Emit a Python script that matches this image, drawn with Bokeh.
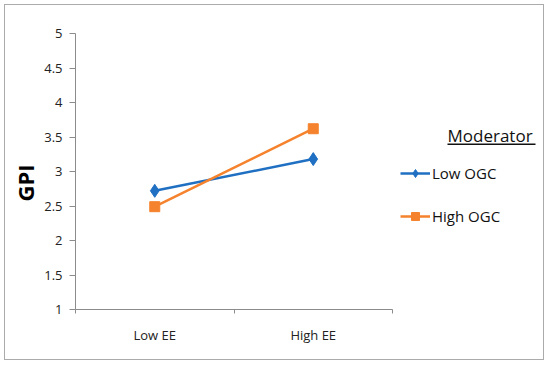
from bokeh.plotting import figure
from bokeh.models import (Range1d, FixedTicker, NumeralTickFormatter, Legend, LegendItem,
                          Label, BoxAnnotation, Title)
from bokeh.embed import file_html
from bokeh.resources import INLINE

categories = ["Low EE", "High EE"]
low_ogc = [2.72, 3.18]
high_ogc = [2.49, 3.62]
y_ticks = [1, 1.5, 2, 2.5, 3, 3.5, 4, 4.5, 5]
series_names = ["Low OGC", "High OGC"]

BLUE = "#1f6fc2"
ORANGE = "#f5822c"
FONT = "Open Sans"

xs = [i + 0.5 for i in range(len(categories))]

W, H = 540, 356
LEFT, TOP, RIGHT, BOTTOM = 70, 28, 2, 52
frame_w = W - LEFT - RIGHT
px_per_cat = 317 / len(categories)          # width of one category slot in pixels
x_end = frame_w / px_per_cat                # frame extends right to host the legend

p = figure(width=W, height=H, output_backend="svg", toolbar_location=None,
           x_range=Range1d(0, x_end), y_range=Range1d(1, 5),
           min_border_left=LEFT, min_border_top=TOP, min_border_right=RIGHT,
           min_border_bottom=BOTTOM)
p.styles = {"margin": "4px", "border": "1px solid #ababab"}
p.outline_line_color = None
p.xgrid.visible = False
p.ygrid.visible = False
p.background_fill_color = "white"
p.border_fill_color = "white"

# y axis
p.yaxis.ticker = FixedTicker(ticks=y_ticks)
p.yaxis.formatter = NumeralTickFormatter(format="0.[0]")
p.yaxis.axis_line_color = "#8c8c8c"
p.yaxis.major_tick_line_color = "#8c8c8c"
p.yaxis.major_tick_out = 6
p.yaxis.major_tick_in = 0
p.yaxis.minor_tick_line_color = None
p.yaxis.major_label_standoff = 7
p.yaxis.major_label_text_font = FONT
p.yaxis.major_label_text_font_size = "13px"
p.yaxis.major_label_text_color = "#222222"

# y-axis title, sitting a little below the frame's middle as in the original
p.add_layout(Title(text="GPI", align="left", offset=108, standoff=4,
                   text_font=FONT, text_font_size="22px", text_font_style="bold",
                   text_color="black"), "left")

# x axis (line limited to the category slots)
p.xaxis.bounds = (0, len(categories))
p.xaxis.ticker = FixedTicker(ticks=xs, minor_ticks=list(range(len(categories) + 1)))
p.xaxis.major_label_overrides = {x: c for x, c in zip(xs, categories)}
p.xaxis.axis_line_color = "#8c8c8c"
p.xaxis.major_tick_line_color = None
p.xaxis.minor_tick_line_color = "#8c8c8c"
p.xaxis.minor_tick_out = 4
p.xaxis.minor_tick_in = 0
p.xaxis.major_label_standoff = 10
p.xaxis.major_label_text_font = FONT
p.xaxis.major_label_text_font_size = "13px"
p.xaxis.major_label_text_color = "#222222"

l1 = p.line(xs, low_ogc, line_color=BLUE, line_width=2.5)
m1 = p.scatter(xs, low_ogc, marker="diamond", size=13, fill_color=BLUE, line_color=BLUE)
l2 = p.line(xs, high_ogc, line_color=ORANGE, line_width=2.5)
m2 = p.scatter(xs, high_ogc, marker="square", size=10, fill_color=ORANGE, line_color=ORANGE)

legend = Legend(items=[LegendItem(label=series_names[0], renderers=[l1, m1]),
                       LegendItem(label=series_names[1], renderers=[l2, m2])],
                location=(325, 83), glyph_width=30, glyph_height=20, label_height=20,
                label_standoff=2, spacing=23, padding=0, margin=0,
                border_line_color=None, background_fill_alpha=0,
                label_text_font=FONT, label_text_font_size="15px", label_text_color="#111111")
p.add_layout(legend, "center")

# legend heading with underline (screen units relative to the plot frame)
p.add_layout(Label(x=372, y=174, x_units="screen", y_units="screen", text="Moderator",
                   text_font=FONT, text_font_size="17px", text_color="#111111",
                   text_baseline="alphabetic"))
p.add_layout(BoxAnnotation(left=372, right=460, top=166, bottom=164.5, left_units="screen",
                           right_units="screen", top_units="screen", bottom_units="screen",
                           fill_color="#111111", fill_alpha=1, line_color=None))

open("out.html", "w").write(file_html(p, INLINE))
